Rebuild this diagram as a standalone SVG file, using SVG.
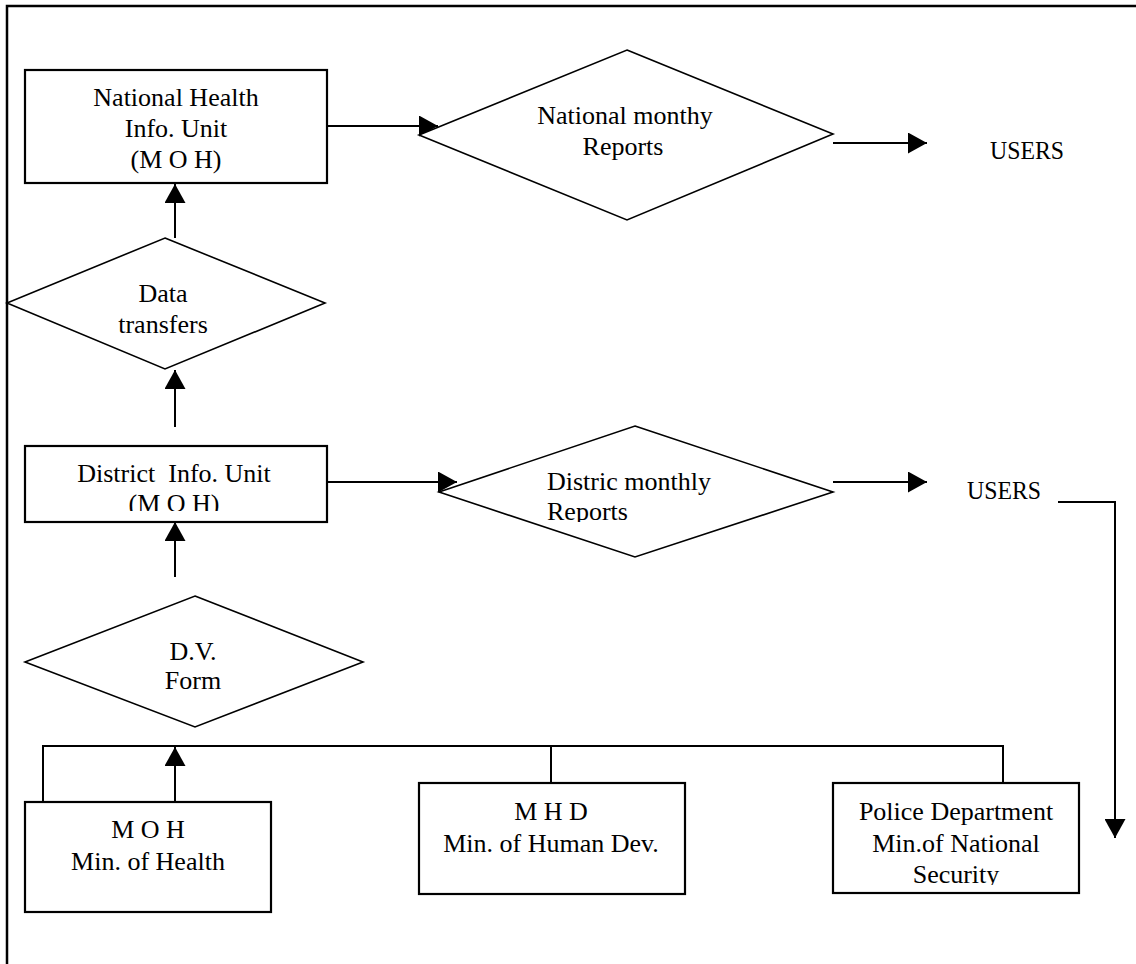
<svg xmlns="http://www.w3.org/2000/svg" width="1136" height="964" viewBox="0 0 1136 964">
<style>
.box{fill:#fff;stroke:#000;stroke-width:2.2}
.dia{fill:#fff;stroke:#000;stroke-width:1.6}
.ln{fill:none;stroke:#000;stroke-width:2}
.frame{fill:none;stroke:#000;stroke-width:2.5}
text{font-family:"Liberation Serif","Times New Roman",serif;font-size:26px;fill:#000}
.c{text-anchor:middle}
</style>
<defs>
<marker id="ah" markerUnits="userSpaceOnUse" markerWidth="20" markerHeight="21" refX="19" refY="10.5" orient="auto">
<path d="M0,0 L19,10.5 L0,21 z" fill="#000"/>
</marker>
<clipPath id="clipDist"><rect x="25" y="446" width="302" height="65"/></clipPath>
<clipPath id="clipDMR"><rect x="440" y="460" width="300" height="62"/></clipPath>
<clipPath id="clipDV"><rect x="100" y="630" width="190" height="60"/></clipPath>
<clipPath id="clipPol"><rect x="833" y="783" width="246" height="102"/></clipPath>
</defs>
<rect width="1136" height="964" fill="#fff"/>
<path class="frame" d="M7,964 L7,6 L1136,6"/>

<g id="connectors">
<path class="ln" d="M175,238 L175,184" marker-end="url(#ah)"/>
<path class="ln" d="M325,126 L438,126" marker-end="url(#ah)"/>
<path class="ln" d="M833,143 L927,143" marker-end="url(#ah)"/>
<path class="ln" d="M175,427 L175,370" marker-end="url(#ah)"/>
<path class="ln" d="M325,482 L457,482" marker-end="url(#ah)"/>
<path class="ln" d="M833,482 L927,482" marker-end="url(#ah)"/>
<path class="ln" d="M1058,502 L1115,502 L1115,838" marker-end="url(#ah)"/>
<path class="ln" d="M175,577 L175,522" marker-end="url(#ah)"/>
<path class="ln" d="M175,802 L175,747" marker-end="url(#ah)"/>
<path class="ln" d="M43,802 L43,746 L1003,746 L1003,783"/>
<path class="ln" d="M551,746 L551,783"/>
</g>

<g id="nhiu">
<rect class="box" x="25" y="70" width="302" height="113"/>
<text class="c" x="176" y="106">National Health</text>
<text class="c" x="176" y="137">Info. Unit</text>
<text class="c" x="176" y="168">(M O H)</text>
</g>

<g id="data-transfers">
<polygon class="dia" points="165,238 325,303 165,369 7,303"/>
<text class="c" x="163" y="302">Data</text>
<text class="c" x="163" y="333">transfers</text>
</g>

<g id="national-reports">
<polygon class="dia" points="627,50 833,134 627,220 419,135"/>
<text class="c" x="625" y="124">National monthy</text>
<text class="c" x="623" y="155">Reports</text>
</g>

<g id="users1">
<text x="990" y="159" textLength="74" lengthAdjust="spacingAndGlyphs">USERS</text>
</g>

<g id="district">
<rect class="box" x="25" y="446" width="302" height="76"/>
<text class="c" x="174" y="482" xml:space="preserve">District  Info. Unit</text>
<text class="c" x="174" y="512" clip-path="url(#clipDist)">(M O H)</text>
</g>

<g id="district-reports">
<polygon class="dia" points="635,426 833,492 635,557 439,492"/>
<text x="547" y="490">Distric monthly</text>
<text x="547" y="520" clip-path="url(#clipDMR)">Reports</text>
</g>

<g id="users2">
<text x="967" y="499" textLength="74" lengthAdjust="spacingAndGlyphs">USERS</text>
</g>

<g id="dv-form">
<polygon class="dia" points="195,596 363,662 195,727 25,662"/>
<text class="c" x="193" y="660">D.V.</text>
<text class="c" x="193" y="689" clip-path="url(#clipDV)">Form</text>
</g>

<g id="moh">
<rect class="box" x="25" y="802" width="246" height="110"/>
<text class="c" x="148" y="838">M O H</text>
<text class="c" x="148" y="870">Min. of Health</text>
</g>

<g id="mhd">
<rect class="box" x="419" y="783" width="266" height="111"/>
<text class="c" x="551" y="820">M H D</text>
<text class="c" x="551" y="852">Min. of Human Dev.</text>
</g>

<g id="police">
<rect class="box" x="833" y="783" width="246" height="110"/>
<text class="c" x="956" y="820">Police Department</text>
<text class="c" x="956" y="852">Min.of National</text>
<text class="c" x="956" y="883" clip-path="url(#clipPol)">Security</text>
</g>
</svg>
